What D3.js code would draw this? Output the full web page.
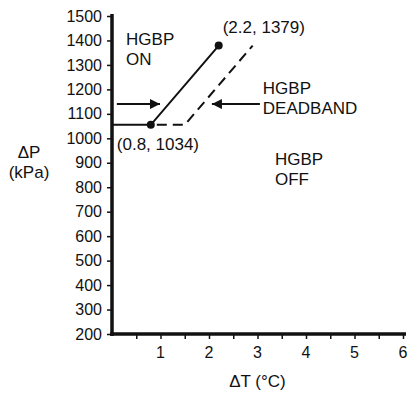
<!DOCTYPE html>
<html>
<head>
<meta charset="utf-8">
<script src="https://cdn.jsdelivr.net/npm/d3@7"></script>
<style>
  body { margin: 0; background: #fff; }
  svg { font-family: "Liberation Sans", Arial, sans-serif; }
</style>
</head>
<body>
<div id="chart"></div>
<script>
// data
const xTicks = [1, 2, 3, 4, 5, 6];
const xMinorTicks = [0.5, 1, 1.5, 2, 2.5, 3, 3.5, 4, 4.5, 5, 5.5, 6];
const yTicks = [200, 300, 400, 500, 600, 700, 800, 900, 1000, 1100, 1200, 1300, 1400, 1500];

// HGBP on line (solid) and deadband line (dashed)
const onLine = [[0, 1055], [0.8, 1055], [2.2, 1379]];
const deadbandLine = [[0.8, 1055], [1.5, 1055], [2.9, 1379]];
const points = [[0.8, 1055], [2.2, 1379]];
const pointLabels = ['(0.8, 1034)', '(2.2, 1379)'];

const width = 414;
const height = 393;
const margin = {top: 16, right: 11, bottom: 59, left: 112};

const svg = d3.select('#chart').append('svg')
  .attr('width', width)
  .attr('height', height);

const x = d3.scaleLinear().domain([0, 6]).range([margin.left, width - margin.right]);
const y = d3.scaleLinear().domain([200, 1500]).range([height - margin.bottom, margin.top]);

svg.append('defs').append('marker')
  .attr('id', 'head')
  .attr('viewBox', '0 0 10 10')
  .attr('refX', 10).attr('refY', 5)
  .attr('markerWidth', 12).attr('markerHeight', 10)
  .attr('markerUnits', 'userSpaceOnUse')
  .attr('orient', 'auto')
  .append('path').attr('d', 'M0,0L10,5L0,10Z').attr('fill', '#111');

// y axis
const yAxis = svg.append('g')
  .attr('transform', `translate(${margin.left},0)`)
  .call(d3.axisLeft(y).tickValues(yTicks).tickSize(5).tickPadding(5).tickFormat(d3.format('d')));
yAxis.select('.domain').remove();
yAxis.selectAll('line').attr('stroke', '#111').attr('stroke-width', 1.5);
yAxis.selectAll('text').attr('font-size', 16).attr('fill', '#111').attr('font-family', null);

// x axis
const xAxis = svg.append('g')
  .attr('transform', `translate(0,${y(200)})`)
  .call(d3.axisBottom(x).tickValues(xMinorTicks).tickSize(5).tickFormat(''));
xAxis.select('.domain').remove();
xAxis.selectAll('line').attr('stroke', '#111').attr('stroke-width', 1.5);

svg.append('g').selectAll('text')
  .data(xTicks)
  .join('text')
  .attr('x', d => x(d))
  .attr('y', y(200) + 24)
  .attr('text-anchor', 'middle')
  .attr('font-size', 16)
  .attr('fill', '#111')
  .text(d => d);

// axis lines (thick)
svg.append('line')
  .attr('x1', x(0)).attr('x2', x(0))
  .attr('y1', y(200) + 2).attr('y2', y(1500) - 2)
  .attr('stroke', '#111').attr('stroke-width', 3.5);
svg.append('line')
  .attr('x1', x(0) - 2).attr('x2', x(6) + 3)
  .attr('y1', y(200)).attr('y2', y(200))
  .attr('stroke', '#111').attr('stroke-width', 3.5);

// lines
const line = d3.line().x(d => x(d[0])).y(d => y(d[1]));

svg.append('path')
  .attr('d', line(deadbandLine))
  .attr('fill', 'none')
  .attr('stroke', '#111')
  .attr('stroke-width', 2)
  .attr('stroke-dasharray', '10,6')
  .attr('stroke-dashoffset', -6);

svg.append('path')
  .attr('d', line(onLine))
  .attr('fill', 'none')
  .attr('stroke', '#111')
  .attr('stroke-width', 2);

svg.append('g').selectAll('circle')
  .data(points)
  .join('circle')
  .attr('cx', d => x(d[0]))
  .attr('cy', d => y(d[1]))
  .attr('r', 4)
  .attr('fill', '#111');

// arrows
const arrows = [
  [[0.1, 1140], [0.99, 1140]],
  [[3.05, 1140], [2.06, 1140]]
];
svg.append('g').selectAll('line')
  .data(arrows)
  .join('line')
  .attr('x1', d => x(d[0][0])).attr('y1', d => y(d[0][1]))
  .attr('x2', d => x(d[1][0])).attr('y2', d => y(d[1][1]))
  .attr('stroke', '#111').attr('stroke-width', 2)
  .attr('marker-end', 'url(#head)');

// annotations
const notes = [
  {pos: [0.8, 1034], dx: -34, dy: 20, lines: [pointLabels[0]]},
  {pos: [2.2, 1379], dx: 4, dy: -13, lines: [pointLabels[1]]},
  {pos: [0.29, 1380], dx: 0, dy: 0, lines: ['HGBP', 'ON']},
  {pos: [3.11, 1180], dx: 0, dy: 0, lines: ['HGBP', 'DEADBAND']},
  {pos: [3.36, 890], dx: 0, dy: 0, lines: ['HGBP', 'OFF']}
];
notes.forEach(n => {
  const t = svg.append('text')
    .attr('x', x(n.pos[0]) + n.dx)
    .attr('y', y(n.pos[1]) + n.dy)
    .attr('font-size', 17)
    .attr('fill', '#111');
  n.lines.forEach((s, i) => {
    t.append('tspan')
      .attr('x', x(n.pos[0]) + n.dx)
      .attr('dy', i === 0 ? 0 : 20)
      .text(s);
  });
});

// axis titles
const yTitle = svg.append('text')
  .attr('text-anchor', 'middle')
  .attr('font-size', 17)
  .attr('fill', '#111');
yTitle.append('tspan').attr('x', 29).attr('y', 158).text('ΔP');
yTitle.append('tspan').attr('x', 29).attr('dy', 20).text('(kPa)');

svg.append('text')
  .attr('x', x(3))
  .attr('y', height - 6)
  .attr('text-anchor', 'middle')
  .attr('font-size', 17)
  .attr('fill', '#111')
  .text('ΔT (°C)');
</script>
</body>
</html>
